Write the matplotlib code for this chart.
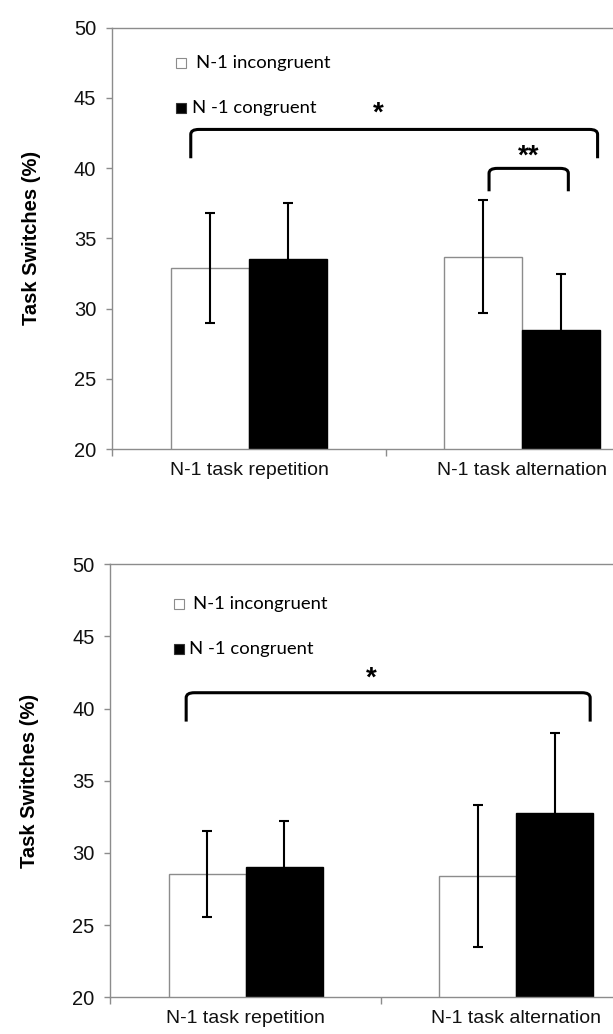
import matplotlib
matplotlib.use("Agg")
from matplotlib import pyplot as plt
from matplotlib.path import Path
from matplotlib.patches import PathPatch
import numpy as np

categories = ["N-1 task repetition", "N-1 task alternation"]
series_names = ["N-1 incongruent", "N -1 congruent"]

# panel A (top)
top_incong = [32.9, 33.7]
top_incong_err = [3.9, 4.0]
top_cong = [33.5, 28.5]
top_cong_err = [4.0, 4.0]

# panel B (bottom)
bot_incong = [28.55, 28.4]
bot_incong_err = [3.0, 4.95]
bot_cong = [29.0, 32.8]
bot_cong_err = [3.2, 5.5]

yticks = [20, 25, 30, 35, 40, 45, 50]

GRAY = "#8c8c8c"


def bracket(ax, x0, x1, y_top, y_end, r=0.03):
    # Excel-like bracket with slightly rounded corners
    dy = 0.35
    verts = [(x0, y_end), (x0, y_top - dy), (x0, y_top), (x0 + r, y_top),
             (x1 - r, y_top), (x1, y_top), (x1, y_top - dy), (x1, y_end)]
    codes = [Path.MOVETO, Path.LINETO, Path.CURVE3, Path.CURVE3,
             Path.LINETO, Path.CURVE3, Path.CURVE3, Path.LINETO]
    ax.add_patch(PathPatch(Path(verts, codes), fill=False, lw=2.2,
                           edgecolor="black", capstyle="butt", clip_on=False))


def panel(ax, incong, incong_err, cong, cong_err, legend_y):
    x = np.arange(len(categories))
    w = 0.285
    ax.bar(x - w / 2, incong, w, bottom=0, color="white", edgecolor=GRAY,
           linewidth=1.0, zorder=2)
    ax.bar(x + w / 2, cong, w, color="black", edgecolor="black",
           linewidth=1.0, zorder=2)
    ax.errorbar(x - w / 2, incong, yerr=incong_err, fmt="none", ecolor="black",
                elinewidth=1.5, capsize=3.5, capthick=1.5, zorder=3)
    ax.errorbar(x + w / 2, cong, yerr=cong_err, fmt="none", ecolor="black",
                elinewidth=1.5, capsize=3.5, capthick=1.5, zorder=3)

    ax.set_xlim(-0.5, 1.5)
    ax.set_ylim(20, 50)
    ax.set_yticks(yticks)
    ax.set_yticklabels([str(t) for t in yticks], fontsize=14.5,
                       family="Liberation Sans", color="#111111")
    ax.set_xticks([-0.5, 0.5, 1.5])
    ax.set_xticklabels([])
    ax.set_xticks(x, minor=True)
    ax.set_xticklabels(categories, minor=True, fontsize=14,
                       family="Liberation Sans", color="#111111")
    ax.tick_params(axis="x", which="minor", length=0, pad=9)
    ax.tick_params(axis="x", which="major", length=5, color=GRAY, width=1)
    ax.tick_params(axis="y", length=4.5, color=GRAY, width=1, pad=7)
    for s in ["left", "bottom", "top"]:
        ax.spines[s].set_color(GRAY)
        ax.spines[s].set_linewidth(1.0)
    ax.spines["right"].set_visible(False)
    ax.set_ylabel("Task Switches (%)", fontsize=14.5, fontweight="bold",
                  family="Liberation Sans", labelpad=24)

    # legend drawn inside the plot area
    ax.plot([-0.248], [legend_y[0]], marker="s", markersize=7,
            markerfacecolor="white", markeredgecolor=GRAY, markeredgewidth=0.8,
            clip_on=False)
    ax.plot([-0.248], [legend_y[1]], marker="s", markersize=7,
            markerfacecolor="black", markeredgecolor="#333333",
            markeredgewidth=0.8, clip_on=False)
    ax.text(-0.193, legend_y[0], series_names[0], fontsize=13.3,
            family="Lato", va="center", ha="left")
    ax.text(-0.210, legend_y[1], series_names[1], fontsize=13.3,
            family="Lato", va="center", ha="left")


fig = plt.figure(figsize=(6.13, 10.34), dpi=100)
ax1 = fig.add_axes([112.3 / 613, 0.5655, 2 * 273.4 / 613, 0.4079])
ax2 = fig.add_axes([110.4 / 613, 0.0355, 2 * 270.6 / 613, 0.4188])

panel(ax1, top_incong, top_incong_err, top_cong, top_cong_err, [47.5, 44.3])
bracket(ax1, -0.213, 1.275, 42.75, 40.7)
bracket(ax1, 0.878, 1.168, 39.98, 38.35)
ax1.text(0.473, 43.85, "*", fontsize=20, fontweight="bold", ha="center",
         va="center", family="Liberation Sans")
ax1.text(1.022, 40.8, "**", fontsize=20, fontweight="bold", ha="center",
         va="center", family="Liberation Sans")

panel(ax2, bot_incong, bot_incong_err, bot_cong, bot_cong_err, [47.25, 44.1])
bracket(ax2, -0.22, 1.273, 41.1, 39.1)
ax2.text(0.464, 42.1, "*", fontsize=20, fontweight="bold", ha="center",
         va="center", family="Liberation Sans")

fig.savefig("out.png", dpi=100)
